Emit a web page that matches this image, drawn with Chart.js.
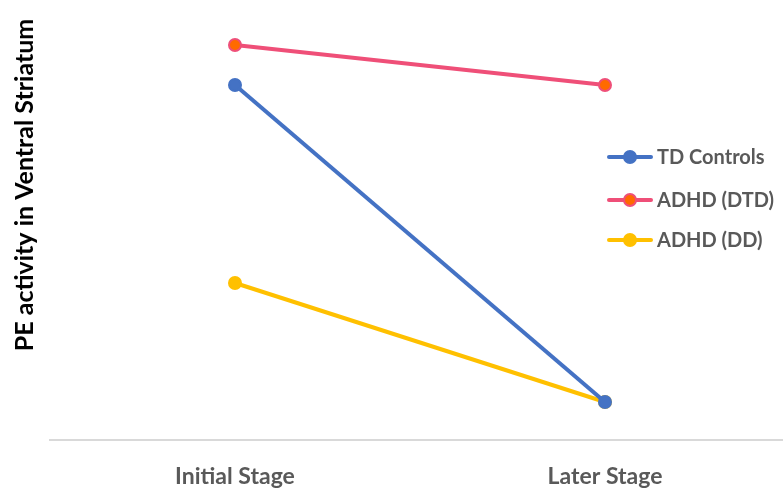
<!DOCTYPE html>
<html>
<head>
<meta charset="utf-8">
<script src="https://cdn.jsdelivr.net/npm/chart.js@4/dist/chart.umd.min.js"></script>
<style>
  html, body { margin: 0; padding: 0; background: #fff; overflow: hidden; }
  #wrap { width: 800px; height: 488px; }
</style>
</head>
<body>
<div id="wrap"><canvas id="graph" width="800" height="488"></canvas></div>
<script>
// Aşamalar ve grupların değerleri
const stages = ['Initial Stage', 'Later Stage'];
const tdControls = [3.55, 0.38];
const adhdDtd = [3.95, 3.55];
const adhdDd = [1.57, 0.38];
const yTitle = 'PE activity in Ventral Striatum';

const FONT = 'Lato, "Open Sans", sans-serif';

// Sağdaki açıklama kutusu (legend) elle çiziliyor
const legendPlugin = {
    id: 'sideLegend',
    afterDraw(chart) {
        const ctx = chart.ctx;
        const rows = [157, 200, 240];
        ctx.save();
        chart.data.datasets.forEach((ds, i) => {
            const y = rows[i];
            ctx.strokeStyle = ds.borderColor;
            ctx.lineWidth = 4;
            ctx.lineCap = 'round';
            ctx.beginPath();
            ctx.moveTo(609, y);
            ctx.lineTo(651, y);
            ctx.stroke();
            ctx.fillStyle = ds.pointBackgroundColor;
            ctx.strokeStyle = ds.pointBorderColor;
            ctx.lineWidth = 2;
            ctx.beginPath();
            ctx.arc(630, y, 6, 0, Math.PI * 2);
            ctx.fill();
            ctx.stroke();
            ctx.fillStyle = '#595959';
            ctx.font = 'bold 20px ' + FONT;
            ctx.textBaseline = 'middle';
            ctx.textAlign = 'left';
            ctx.fillText(ds.label, 657, y + 1);
        });
        // Dikey eksen başlığı
        ctx.translate(33, 185);
        ctx.rotate(-Math.PI / 2);
        ctx.fillStyle = '#000';
        ctx.font = 'bold 25px ' + FONT;
        ctx.textAlign = 'center';
        ctx.textBaseline = 'alphabetic';
        ctx.fillText(yTitle, 0, 0);
        ctx.restore();
    }
};

const ctx = document.getElementById('graph').getContext('2d');
new Chart(ctx, {
    type: 'line',
    data: {
        labels: stages,
        datasets: [{
            label: 'TD Controls',
            data: tdControls,
            borderColor: '#4472C4',
            pointBackgroundColor: '#4472C4',
            pointBorderColor: '#4472C4'
        }, {
            label: 'ADHD (DTD)',
            data: adhdDtd,
            borderColor: '#EF4F78',
            pointBackgroundColor: '#FF6A00',
            pointBorderColor: '#EF4F78'
        }, {
            label: 'ADHD (DD)',
            data: adhdDd,
            borderColor: '#FFC000',
            pointBackgroundColor: '#FFC000',
            pointBorderColor: '#FFC000'
        }]
    },
    options: {
        responsive: false,
        animation: false,
        layout: { autoPadding: false, padding: { left: 50, right: 10, top: 0, bottom: 0 } },
        elements: {
            line: { borderWidth: 4, tension: 0 },
            point: { radius: 6, borderWidth: 2 }
        },
        plugins: {
            legend: { display: false },
            tooltip: { enabled: false }
        },
        scales: {
            x: {
                offset: true,
                grid: { display: false },
                border: { color: '#D9D9D9', width: 2 },
                ticks: {
                    color: '#595959',
                    padding: 15,
                    font: { family: FONT, size: 23, weight: 'bold' }
                },
                afterFit(scale) { scale.height = 48; }
            },
            y: {
                display: false,
                min: 0,
                max: 4.4
            }
        }
    },
    plugins: [legendPlugin]
});
</script>
</body>
</html>
